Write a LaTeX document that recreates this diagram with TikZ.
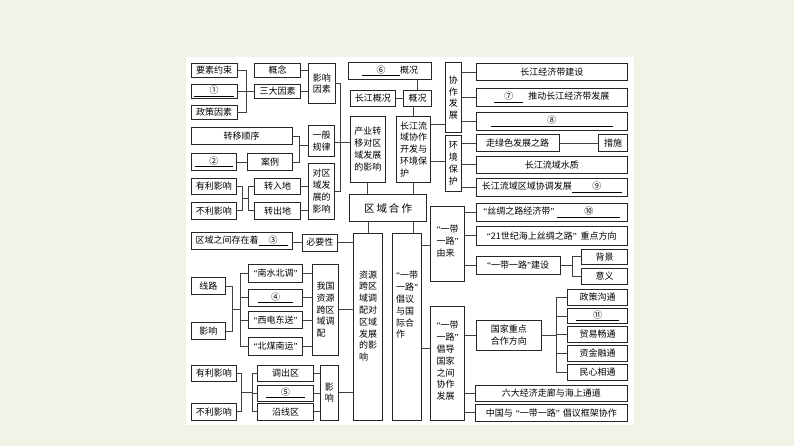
\documentclass[tikz,border=0pt]{standalone}
\usepackage{fontspec}
\newfontfamily\cjk{Noto Sans CJK SC}
\newfontfamily\qfont{Liberation Serif}
\usetikzlibrary{calc}
\definecolor{bgc}{RGB}{239,244,231}
\newcommand\qo{{\qfont “}}
\newcommand\qc{{\qfont ”}}
\newcommand\blank[2]{\underline{\makebox[#1]{#2}}}
\newcommand\mybx[6]{\node[bx,minimum width={#4-#2},minimum height={#5-#3}] (#1) at ({(#2+#4)/2},{(#3+#5)/2}) {#6};}
\tikzset{
  bx/.style={draw=black!85, line width=0.75pt, inner sep=0pt, outer sep=0pt, align=left, fill=white, font=\cjk\fontsize{9}{11.8}\selectfont},
  txt/.style={inner sep=0pt, align=left, font=\cjk\fontsize{9}{11.8}\selectfont},
  ln/.style={draw=black!75, line width=0.75pt}
}
\begin{document}
\begin{tikzpicture}[x=1pt,y=-1pt]
\fill[bgc] (0,0) rectangle (794,446);
\fill[white] (186,57) rectangle (634,425);
\useasboundingbox (0,0) rectangle (794,446);
% column 1
\mybx{A1}{191}{63.5}{237}{77.5}{要素约束}
\mybx{A2}{191}{84.5}{237}{98.5}{\blank{40pt}{①}}
\mybx{A3}{191}{105.5}{237}{119}{政策因素}
\mybx{A4}{191}{127.5}{292}{144.5}{转移顺序}
\mybx{A5}{191}{153.5}{236.5}{170.5}{\blank{38pt}{②}}
\mybx{A6}{191}{178.5}{236.5}{194.5}{有利影响}
\mybx{A7}{191}{202.5}{236.5}{219}{不利影响}
\mybx{A8}{191}{232.5}{292}{249.5}{区域之间存在着\blank{29pt}{③}}
\mybx{A9}{191}{277.5}{225.5}{294.5}{线路}
\mybx{A10}{191}{322.5}{225.5}{339.5}{影响}
\mybx{A11}{191}{365.5}{236.5}{381.5}{有利影响}
\mybx{A12}{191}{403.5}{236.5}{420}{不利影响}
% column 2
\mybx{B1}{254.5}{63.5}{300.5}{77.5}{概念}
\mybx{B2}{254.5}{84}{300.5}{98.5}{三大因素}
\mybx{B3}{247.5}{153.5}{292.5}{170.5}{案例}
\mybx{B4}{254.5}{178.5}{300.5}{194.5}{转入地}
\mybx{B5}{254.5}{202.5}{300.5}{219}{转出地}
\mybx{B6}{302.5}{234}{337}{251}{必要性}
\mybx{B7}{248.5}{264.5}{302.5}{282.5}{\qo 南水北调\qc}
\mybx{B8}{248.5}{289.5}{302.5}{306}{\blank{35pt}{④}}
\mybx{B9}{248.5}{311.5}{302.5}{328.5}{\qo 西电东送\qc}
\mybx{B10}{248.5}{337.5}{302.5}{355}{\qo 北煤南运\qc}
\mybx{B11}{257.5}{365.5}{313.5}{381.5}{调出区}
\mybx{B12}{257.5}{385}{313.5}{401}{\blank{39pt}{⑤}}
\mybx{B13}{257.5}{403.5}{313.5}{420}{沿线区}
% column 3
\mybx{C1}{308.5}{63.5}{335}{103.5}{影响\\因素}
\mybx{C2}{308.5}{125}{334.5}{156.5}{一般\\规律}
\mybx{C3}{308.5}{163.5}{334.5}{219}{对区\\域发\\展的\\影响}
\mybx{C4}{312.5}{264.5}{338.5}{355}{我国\\资源\\跨区\\域调\\配}
\mybx{C5}{320}{365.5}{338.5}{420}{影\\响}
% centre
\mybx{D1}{348.5}{62.5}{431.5}{79}{\blank{38pt}{⑥}概况}
\mybx{D2}{350}{90.5}{395.5}{106.5}{长江概况}
\mybx{D3}{403.5}{90.5}{431.5}{106.5}{概况}
\mybx{D4}{350.5}{116}{385}{182.5}{产业转\\移对区\\域发展\\的影响}
\mybx{D5}{396.5}{116}{430.5}{182.5}{长江流\\域协作\\开发与\\环境保\\护}
\mybx{D6}{349.5}{194.5}{426.5}{221.5}{\fontsize{10.5}{12}\selectfont 区\hspace{2pt}域\hspace{2pt}合\hspace{2pt}作}
\mybx{D7}{353.5}{233.5}{382.5}{420}{}
\node[txt] (D7t) at (368,316) {资源\\跨区\\域调\\配对\\区域\\发展\\的影\\响};
\mybx{D8}{392.5}{233.5}{421.5}{420}{}
\node[txt] (D8t) at (407,305) {\qo 一带\\一路\qc\\倡议\\与国\\际合\\作};
% right
\mybx{E1}{445}{62.5}{461.5}{132.5}{协\\作\\发\\展}
\mybx{E2}{445}{135}{461.5}{191.5}{环\\境\\保\\护}
\mybx{E3}{430.5}{206.5}{464.5}{281.5}{}
\node[txt] (E3t) at (447.5,241) {\qo 一带\\一路\qc\\由来};
\mybx{E4}{430.5}{306.5}{464.5}{420}{}
\node[txt] (E4t) at (447.5,361) {\qo 一带\\一路\qc\\倡导\\国家\\之间\\协作\\发展};
% far right
\mybx{F1}{476}{63.5}{627.5}{80.5}{长江经济带建设}
\mybx{F2}{476}{88.5}{627.5}{106.5}{\blank{29pt}{⑦}\hspace{5pt}推动长江经济带发展}
\mybx{F3}{476}{112.5}{627.5}{130}{\blank{122pt}{⑧}}
\mybx{F4}{476}{134.5}{559}{151.5}{走绿色发展之路}
\mybx{F5}{598.5}{134.5}{627.5}{151.5}{措施}
\mybx{F6}{476}{156}{627.5}{173.5}{长江流域水质}
\mybx{F7}{476}{178.5}{627.5}{196.5}{长江流域区域协调发展\blank{50pt}{⑨}}
\mybx{F8}{476}{203.5}{627.5}{221.5}{\qo 丝绸之路经济带\qc\hspace{3pt}\blank{63pt}{⑩}}
\mybx{F9}{476}{226.5}{627.5}{245}{\qo 21世纪海上丝绸之路\qc\hspace{4pt}重点方向}
\mybx{F10}{476}{256.5}{560}{274.5}{\qo 一带一路\qc 建设}
\mybx{F11}{581.5}{249}{627.5}{264.5}{背景}
\mybx{F12}{581.5}{268.5}{627.5}{284.5}{意义}
\mybx{F13}{476.5}{320}{541}{350}{国家重点\\合作方向}
\mybx{F14}{567.5}{289}{627.5}{305}{政策沟通}
\mybx{F15}{567.5}{308.5}{627.5}{323.5}{\blank{43pt}{⑪}}
\mybx{F16}{567.5}{326.5}{627.5}{342.5}{贸易畅通}
\mybx{F17}{567.5}{345}{627.5}{361}{资金融通}
\mybx{F18}{567.5}{364.5}{627.5}{380}{民心相通}
\mybx{F19}{475}{385}{627.5}{401.5}{六大经济走廊与海上通道}
\mybx{F20}{475}{404.5}{627.5}{421}{中国与\hspace{3pt}\qo 一带一路\qc\hspace{3pt}倡议框架协作}
% junction coordinates
\coordinate (j1) at (246,0);
\coordinate (j2) at (340.3,0);
\coordinate (j3) at (299.3,0);
\coordinate (j4) at (242.3,0);
\coordinate (j5) at (248.3,0);
\coordinate (j6) at (232.3,0);
\coordinate (j7) at (240,0);
\coordinate (j8) at (241,0);
\coordinate (j9) at (252.7,0);
\coordinate (j10) at (572,0);
\coordinate (j11) at (556.7,0);
\coordinate (k8) at (413,0);
% connectors left
\draw[ln] (A1.east) -- (A1.east -| j1) |- (A3.east);
\draw[ln] (A2.east) -- (A2.east -| B2.west);
\draw[ln] (B1.east) -- (B1.east -| C1.west);
\draw[ln] (B2.east) -- (B2.east -| C1.west);
\draw[ln] (C1.east |- 0,83) -- (j2 |- 0,83) |- (C3.east);
\draw[ln] (C2.east |- 0,142) -- (D4.west |- 0,142);
\draw[ln] (A4.east) -- (A4.east -| j3) |- (B3.east);
\draw[ln] (j3 |- 0,145) -- (C2.west |- 0,145);
\draw[ln] (A5.east) -- (A5.east -| B3.west);
\draw[ln] (A6.east) -- (A6.east -| j4) |- (A7.east);
\draw[ln] (j4 |- 0,198.5) -- (j5 |- 0,198.5);
\draw[ln] (B4.west) -- (B4.west -| j5) |- (B5.west);
\draw[ln] (B4.east) -- (B4.east -| C3.west);
\draw[ln] (B5.east) -- (B5.east -| C3.west);
\draw[ln] (B6.west -| A8.east) -- (B6.west);
\draw[ln] (B6.east) -- (B6.east -| D7.west);
\draw[ln] (A9.east) -- (A9.east -| j6) |- (A10.east);
\draw[ln] (j6 |- 0,309) -- (j7 |- 0,309);
\draw[ln] (B7.west) -- (B7.west -| j7) |- (B10.west);
\draw[ln] (B8.west) -- (B8.west -| j7);
\draw[ln] (B9.west) -- (B9.west -| j7);
\draw[ln] (B7.east) -- (B7.east -| C4.west);
\draw[ln] (B8.east) -- (B8.east -| C4.west);
\draw[ln] (B9.east) -- (B9.east -| C4.west);
\draw[ln] (B10.east) -- (B10.east -| C4.west);
\draw[ln] (C4.east) -- (C4.east -| D7.west);
\draw[ln] (A11.east) -- (A11.east -| j8) |- (A12.east);
\draw[ln] (j8 |- 0,392.5) -- (j9 |- 0,392.5);
\draw[ln] (B11.west) -- (B11.west -| j9) |- (B13.west);
\draw[ln] (B12.west) -- (B12.west -| j9);
\draw[ln] (B11.east) -- (B11.east -| C5.west);
\draw[ln] (B12.east) -- (B12.east -| C5.west);
\draw[ln] (B13.east) -- (B13.east -| C5.west);
\draw[ln] (C5.east) -- (C5.east -| D7.west);
% centre
\draw[ln] (D3.north) -- (D3.north |- D1.south);
\draw[ln] (D2.east) -- (D3.west);
\draw[ln] (D5.north) -- (D5.north |- D3.south);
\draw[ln] (D4.south) -- (D4.south |- D6.north);
\draw[ln] (D5.south) -- (D5.south |- D6.north);
\draw[ln] (D7.north) -- (D7.north |- D6.south);
\draw[ln] (k8 |- D6.south) -- (k8 |- D8.north);
% right
\draw[ln] (D5.east |- 0,124) -- (E1.west |- 0,124);
\draw[ln] (D5.east |- 0,161) -- (E2.west |- 0,161);
\draw[ln] (F1.west -| E1.east) -- (F1.west);
\draw[ln] (F2.west -| E1.east) -- (F2.west);
\draw[ln] (F3.west -| E1.east) -- (F3.west);
\draw[ln] (F4.west -| E2.east) -- (F4.west);
\draw[ln] (F6.west -| E2.east) -- (F6.west);
\draw[ln] (F7.west -| E2.east) -- (F7.west);
\draw[ln] (F4.east) -- (F5.west);
\draw[ln] (D8.east |- 0,245) -- (E3.west |- 0,245);
\draw[ln] (D8.east |- 0,348) -- (E4.west |- 0,348);
\draw[ln] (F8.west -| E3.east) -- (F8.west);
\draw[ln] (F9.west -| E3.east) -- (F9.west);
\draw[ln] (F10.west -| E3.east) -- (F10.west);
\draw[ln] (F10.east) -- (F10.east -| j10);
\draw[ln] (F11.west) -- (F11.west -| j10) |- (F12.west);
\draw[ln] (F13.west -| E4.east) -- (F13.west);
\draw[ln] (F19.west -| E4.east) -- (F19.west);
\draw[ln] (F20.west -| E4.east) -- (F20.west);
\draw[ln] (F13.east) -- (F13.east -| j11);
\draw[ln] (F14.west) -- (F14.west -| j11) |- (F18.west);
\draw[ln] (F15.west) -- (F15.west -| j11);
\draw[ln] (F16.west) -- (F16.west -| j11);
\draw[ln] (F17.west) -- (F17.west -| j11);
\end{tikzpicture}
\end{document}
